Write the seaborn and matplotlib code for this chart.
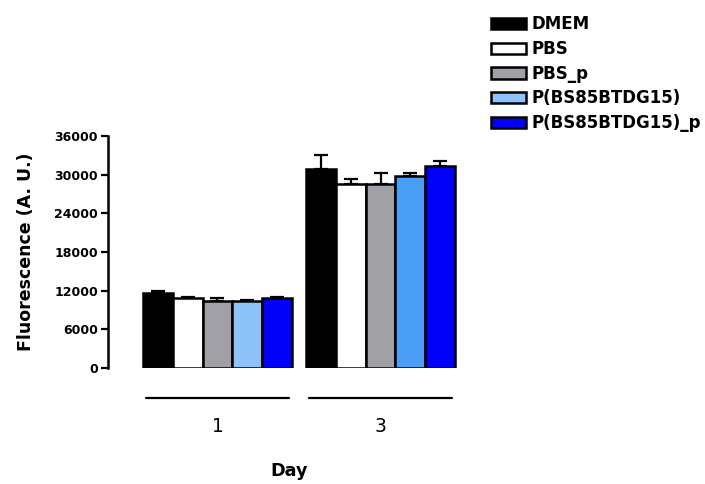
import numpy as np
import pandas as pd
import matplotlib
matplotlib.use("Agg")
import matplotlib.pyplot as plt
import matplotlib.transforms as mtransforms
from matplotlib.patches import Patch
import seaborn as sns

days = ['1', '3']
groups = ['DMEM', 'PBS', 'PBS_p', 'P(BS85BTDG15)', 'P(BS85BTDG15)_p']
day1_mean = [11700, 10800, 10400, 10400, 10900]
day1_err = [250, 250, 500, 100, 100]
day3_mean = [30900, 28600, 28600, 29800, 31400]
day3_err = [2200, 800, 1600, 500, 700]
colors = ['#000000', '#ffffff', '#a0a0a6', '#8ec3fa', '#0000f8']

df = pd.DataFrame({
    'day': ['1'] * 5 + ['3'] * 5,
    'group': groups + groups,
    'mean': day1_mean + day3_mean,
})
errs = {'1': day1_err, '3': day3_err}

sns.set_style("ticks")
plt.rcParams['font.family'] = ['DejaVu Sans']
plt.rcParams['text.color'] = 'black'
plt.rcParams['axes.labelcolor'] = 'black'
plt.rcParams['xtick.color'] = 'black'
plt.rcParams['ytick.color'] = 'black'
plt.rcParams['axes.edgecolor'] = 'black'

fig = plt.figure(figsize=(7.05, 4.84), dpi=100)
ax = fig.add_axes([0.153, 0.2397, 0.514, 0.4793])

sns.barplot(data=df, x='day', y='mean', hue='group', order=days, hue_order=groups,
            palette=colors, saturation=1, width=0.91, edgecolor='black', linewidth=1.8,
            errorbar=None, legend=False, ax=ax, zorder=3)

bars = list(ax.containers)

# day 3 light blue bar looks more saturated in the original
bars[3].patches[1].set_facecolor('#4b9ef5')

# upper-only error bars
for i, cont in enumerate(bars):
    for j, p in enumerate(cont.patches):
        x = p.get_x() + p.get_width() / 2
        y = p.get_height()
        e = errs[days[j]][i]
        ax.errorbar([x], [y], yerr=[[0], [e]], fmt='none', ecolor='black',
                    elinewidth=1.6, capsize=5, capthick=1.6, zorder=2)

ax.set_ylim(0, 36000)
ax.set_xlim(-0.672, 1.55)
ax.set_yticks(np.arange(0, 36001, 6000))
ax.set_yticklabels([str(v) for v in range(0, 36001, 6000)], fontweight='bold', fontsize=9)
ax.tick_params(axis='y', length=5, width=1.6, pad=2)
ax.tick_params(axis='x', length=0, pad=35, labelsize=13.5)

ax.spines[['top', 'right', 'bottom']].set_visible(False)
ax.spines['left'].set_linewidth(1.8)

ax.set_ylabel('Fluorescence (A. U.)', fontsize=12.5, fontweight='bold', labelpad=14)
ax.set_xlabel('Day', fontsize=12.7, fontweight='bold', labelpad=19)

# group underlines
trans = mtransforms.blended_transform_factory(ax.transData, ax.transAxes)
for c in ax.get_xticks():
    ax.plot([c - 0.44, c + 0.44], [-0.13, -0.13], transform=trans,
            color='black', lw=1.6, clip_on=False)

handles = [Patch(facecolor=col, edgecolor='black', linewidth=1.8) for col in colors]
fig.legend(handles, groups, loc='upper left', bbox_to_anchor=(0.697, 0.968),
           frameon=False, prop={'weight': 'bold', 'size': 12},
           handlelength=2.1, handleheight=0.66, handletextpad=0.3,
           labelspacing=0.4, borderpad=0, borderaxespad=0)

fig.savefig('out.png', dpi=100)
